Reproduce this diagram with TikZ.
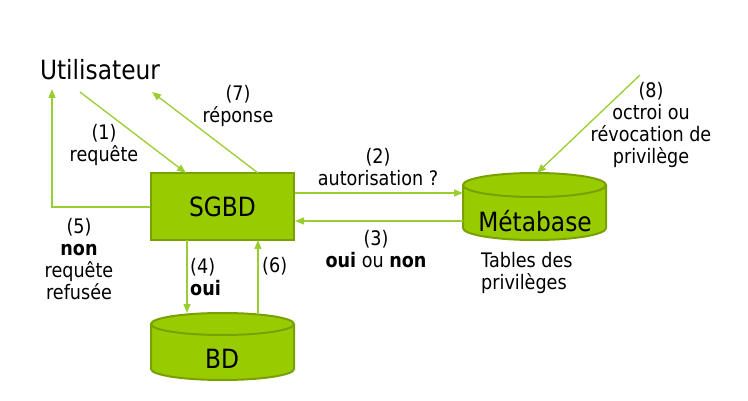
\documentclass[tikz,border=0pt]{standalone}
\usepackage{fontspec}
\setmainfont[FakeStretch=0.88]{DejaVu Sans}
\usetikzlibrary{arrows.meta}
\definecolor{gfill}{HTML}{99CC00}
\definecolor{gdraw}{HTML}{78A000}
\definecolor{gline}{HTML}{9ACD32}
\begin{document}
\begin{tikzpicture}[x=1pt,y=-1pt,
  big/.style={font=\fontsize{26.5}{30}\selectfont},
  small/.style={font=\fontsize{20}{22}\selectfont, align=center, inner sep=0pt},
  flow/.style={draw=gline, line width=1.3pt, -{Triangle[length=9pt,width=7pt]}},
  boxstyle/.style={draw=gdraw, line width=2pt, fill=gfill}]
\useasboundingbox (0,0) rectangle (748,401);
% Utilisateur
\node[big, inner sep=0pt] (user) at (100,70) {Utilisateur};
\coordinate (u1) at (80,92);
\coordinate (u7) at (152,92);
\coordinate (u5) at (52,89);
\coordinate (p8) at (640,75);
% SGBD
\node[boxstyle, big, minimum width=143pt, minimum height=67pt, inner sep=0pt] (sgbd) at (222.5,206.5) {SGBD};
% Metabase cylinder
\fill[gfill, draw=gdraw, line width=2pt] (463,185) -- (463,228) arc[start angle=180, end angle=360, x radius=71.5pt, y radius=12pt] -- (606,185);
\filldraw[fill=gfill, draw=gdraw, line width=2pt] (534.5,185) ellipse[x radius=71.5pt, y radius=12pt];
\node[big, inner sep=0pt] (meta) at (535,221) {Métabase};
\coordinate (metatop) at (537,173);
% BD cylinder
\fill[gfill, draw=gdraw, line width=2pt] (151,324) -- (151,369) arc[start angle=180, end angle=360, x radius=71.5pt, y radius=11pt] -- (294,324);
\filldraw[fill=gfill, draw=gdraw, line width=2pt] (222.5,324) ellipse[x radius=71.5pt, y radius=11pt];
\node[big, inner sep=0pt] (bd) at (222,359) {BD};
% arrows
\draw[flow] (u1) -- (186,173);
\draw[flow] (258,173) -- (u7);
\draw[flow] (sgbd.west |- 0,207) -- (52,207) -- (u5);
\draw[flow] (sgbd.east |- 0,193) -- (463,193);
\draw[flow] (463,221) -- (sgbd.east |- 0,221);
\draw[flow] (187,240) -- (187,313);
\draw[flow] (258,313) -- (258,240);
\draw[flow] (p8) -- (metatop);
% labels
\node[small] (l1) at (104,145) {(1)\\requête};
\node[small] (l7) at (238,106) {(7)\\réponse};
\node[small] (l5) at (79,259) {(5)\\\textbf{non}\\requête\\refusée};
\node[small] (l2) at (378,167) {(2)\\autorisation ?};
\node[small] (l3) at (376,249) {(3)\\\textbf{oui} ou \textbf{non}};
\node[small, align=left, anchor=west] (ltab) at (481,273) {Tables des\\privilèges};
\node[small, align=left, anchor=west] (l4) at (190,277) {(4)\\\textbf{oui}};
\node[small, anchor=west] (l6) at (262,266) {(6)};
\node[small] (l8) at (651,125) {(8)\\octroi ou\\révocation de\\privilège};
\end{tikzpicture}
\end{document}
